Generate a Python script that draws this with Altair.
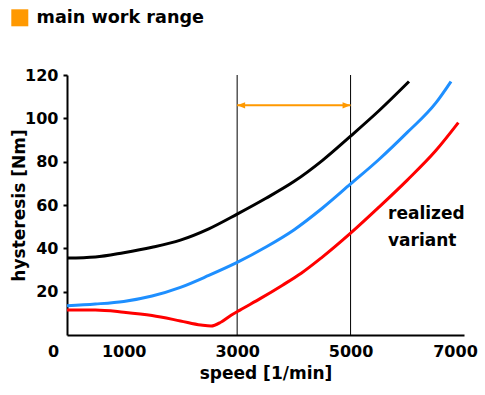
import altair as alt
import pandas as pd

# --- data ---
speed_black = [0, 500, 1000, 1500, 2000, 2500, 3000, 3500, 4000, 4500, 5000, 5500, 6030]
hyst_black = [35.5, 36, 38, 40.5, 43.8, 49, 55.8, 63, 70.8, 80.5, 91.8, 103.5, 117]

speed_blue = [0, 500, 1000, 1500, 2000, 2500, 3000, 3500, 4000, 4500, 5000, 5500, 6000, 6500, 6770]
hyst_blue = [13.5, 14.3, 15.5, 18, 22, 27.5, 33.5, 40.5, 48.5, 58.5, 69.7, 81, 93.5, 107, 117]

speed_red = [0, 500, 1000, 1500, 2000, 2360, 2540, 2720, 2900, 3050, 3420, 3800, 4130, 4480, 5000, 5500, 6000, 6500, 6900]
hyst_red = [11.5, 11.5, 10.5, 9, 6.5, 4.6, 4.1, 6, 9.2, 11.5, 17, 23, 28.5, 35.5, 47, 59, 71.5, 85, 98]

range_bounds = [3000, 5000]
range_level = 106
range_label = "main work range"
annot_text = ["realized", "variant"]
annot_pos = (5660, 56)
x_ticks = [0, 1000, 3000, 5000, 7000]
y_ticks = [20, 40, 60, 80, 100, 120]

FONT = "DejaVu Sans"
ORANGE = "#FF9900"

xs = alt.Scale(domain=[0, 7000], nice=False)
ys = alt.Scale(domain=[0, 120], nice=False)

xaxis = alt.Axis(
    values=x_ticks, ticks=False, grid=False, title="speed [1/min]", format="d",
    labelFlush=False,
    labelOffset={"condition": [{"test": "datum.value == 0", "value": -14},
                               {"test": "datum.value == 7000", "value": -9}], "value": 0},
    labelPadding=8, titlePadding=6,
)
yaxis = alt.Axis(values=y_ticks, grid=False, title="hysteresis [Nm]", format="d",
                 tickSize=4, tickWidth=2, labelPadding=5, titlePadding=-4)


def curve(sp, hy, color):
    df = pd.DataFrame({"speed": sp, "hyst": hy})
    return alt.Chart(df).mark_line(color=color, strokeWidth=3, interpolate="monotone").encode(
        x=alt.X("speed:Q", scale=xs, axis=xaxis),
        y=alt.Y("hyst:Q", scale=ys, axis=yaxis),
    )


rules_df = pd.DataFrame({"speed": range_bounds, "lo": [0, 0], "hi": [120, 120]})
rules = alt.Chart(rules_df).mark_rule(color="black", strokeWidth=1).encode(
    x="speed:Q", y="lo:Q", y2="hi:Q")

arrow_df = pd.DataFrame({"speed": range_bounds, "hyst": [range_level] * 2, "lbl": [range_label] * 2})
arrow = alt.Chart(arrow_df).mark_line(strokeWidth=2).encode(
    x="speed:Q", y="hyst:Q",
    color=alt.Color("lbl:N", scale=alt.Scale(domain=[range_label], range=[ORANGE]),
                    legend=alt.Legend(title=None, orient="none", legendX=-56, legendY=-66,
                                      symbolType="square", symbolSize=289, symbolStrokeWidth=0,
                                      symbolFillColor=ORANGE, symbolStrokeColor=ORANGE,
                                      symbolOpacity=1, labelFontSize=17.6, labelFont=FONT,
                                      labelFontWeight="bold", labelColor="black", labelOffset=8,
                                      labelLimit=400, padding=0)),
)
head_l = alt.Chart(arrow_df.iloc[[0]]).mark_point(
    shape="M0,0L1,-0.4L1,0.4Z", size=256, filled=True, color=ORANGE, opacity=1).encode(
    x="speed:Q", y="hyst:Q")
head_r = alt.Chart(arrow_df.iloc[[1]]).mark_point(
    shape="M0,0L-1,-0.4L-1,0.4Z", size=256, filled=True, color=ORANGE, opacity=1).encode(
    x="speed:Q", y="hyst:Q")

annot_df = pd.DataFrame({"speed": [annot_pos[0]], "hyst": [annot_pos[1]], "t": ["\n".join(annot_text)]})
annot = alt.Chart(annot_df).mark_text(
    align="left", baseline="middle", font=FONT, fontSize=17, fontWeight="bold",
    lineBreak="\n", lineHeight=27, color="black").encode(
    x="speed:Q", y="hyst:Q", text="t:N")

chart = alt.layer(
    rules, curve(speed_black, hyst_black, "black"), curve(speed_blue, hyst_blue, "#1E8FFF"),
    curve(speed_red, hyst_red, "#FF0000"), arrow, head_l, head_r, annot,
).properties(
    width=397, height=260,
    padding={"left": 10, "top": 9, "right": 5, "bottom": 5},
).configure_view(stroke=None).configure_axis(
    domainColor="black", domainWidth=2, tickColor="black",
    labelFont=FONT, labelFontSize=16, labelFontWeight="bold", labelColor="black",
    titleFont=FONT, titleFontSize=17, titleFontWeight="bold", titleColor="black",
)

chart.save("out.html", embed_options={"renderer": "svg", "actions": False})
